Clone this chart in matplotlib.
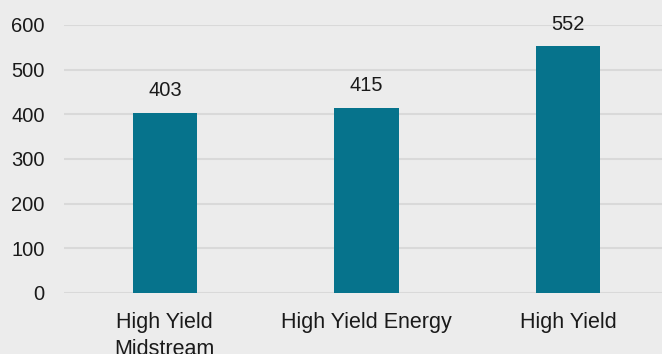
import matplotlib.pyplot as plt

categories = ["High Yield\nMidstream", "High Yield Energy", "High Yield"]
values = [403, 415, 552]
yticks = [0, 100, 200, 300, 400, 500, 600]

BG = "#ECECEC"
BAR = "#06738C"
GRID = "#D9D9D9"
TXT = "#1a1a1a"

plt.rcParams["font.family"] = ["Liberation Sans", "DejaVu Sans"]

fig = plt.figure(figsize=(6.62, 3.54), dpi=100, facecolor=BG)
ax = fig.add_axes([64 / 662, 61 / 354, 1 - 64 / 662, 268 / 354])
ax.set_facecolor(BG)

x = range(len(categories))
bars = ax.bar(x, values, width=0.32, color=BAR, zorder=3)

# value labels above bars
for b, v in zip(bars, values):
    ax.annotate(str(v), (b.get_x() + b.get_width() / 2, v),
                xytext=(0, 9), textcoords="offset points",
                ha="center", va="bottom", fontsize=14.5, color=TXT)

ax.set_xlim(-0.5, 2.465)
ax.set_ylim(0, 600)
ax.set_yticks(yticks)
ax.set_xticks(list(x))
ax.set_xticklabels(categories, fontsize=15.5, color=TXT, linespacing=1.35)
ax.tick_params(axis="y", labelsize=14.5, labelcolor=TXT, length=0, pad=14)
ax.tick_params(axis="x", length=0, pad=14)

ax.grid(axis="y", color=GRID, linewidth=1.5, zorder=0)
ax.set_axisbelow(True)
for s in ax.spines.values():
    s.set_visible(False)

fig.savefig("out.png", dpi=100, facecolor=BG)
